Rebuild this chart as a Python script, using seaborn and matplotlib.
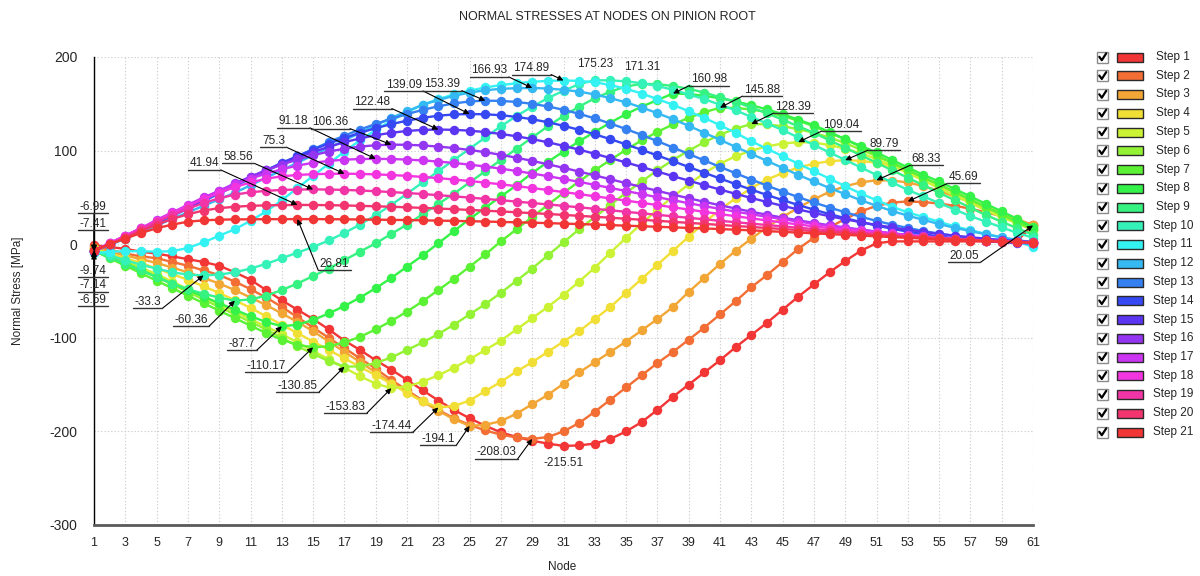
import matplotlib
matplotlib.use("Agg")
import matplotlib.pyplot as plt
import matplotlib.transforms as mtransforms
from matplotlib.lines import Line2D
from matplotlib.patches import Rectangle
import numpy as np
import pandas as pd
import seaborn as sns

# ---------------------------------------------------------------- data
nodes = list(range(1, 62))
step_names = [f"Step {i}" for i in range(1, 22)]

step_01 = [-1, -3, -5, -8, -10, -13, -16, -19, -23, -30,
           -38, -49, -60, -70, -80, -91, -103, -113, -124, -134,
           -145, -156, -167, -177, -186, -194, -201, -206, -210, -213,
           -215.51, -215, -213, -208, -200, -190, -177, -163, -150, -137,
           -124, -110, -97, -84, -70, -56, -43, -30, -18, -7,
           1, 3, 3, 3, 3, 3, 3, 3, 3, 4, 20.05]
step_02 = [-3, -6, -10, -13, -15, -19, -23, -28, -33, -40,
           -48, -57, -67, -78, -89, -100, -111, -122, -133, -145,
           -156, -167, -177, -186, -193, -199, -203.5, -206.5, -208.03, -206,
           -200, -191, -179, -166, -153, -140, -127, -115, -102, -89,
           -75, -61, -46, -33, -19, -5, 7, 18, 27, 35,
           41, 44.5, 45.69, 45, 43.5, 41, 38, 34, 30, 25, 21]
step_03 = [-4, -8, -12, -16, -20, -25, -30, -36, -42, -49,
           -57, -65, -74, -83, -93, -104, -115, -126, -137, -148,
           -158, -168, -178, -187, -194.1, -193, -189, -181, -171, -161,
           -149, -137, -126, -115, -104, -92, -80, -67, -51, -36,
           -21, -7, 6, 18, 29, 39, 48, 56, 62, 66,
           68.33, 68, 66, 62, 57, 51, 45, 39, 33, 27, 20]
step_04 = [-5, -10, -15, -20, -26, -32, -38, -45, -52, -60,
           -68, -77, -86, -95, -104, -113, -122, -131, -140, -149,
           -159, -168, -174.44, -173, -167, -157, -147, -136, -126, -115,
           -104, -93, -80, -67, -52, -37, -22, -7, 8, 23,
           37, 49, 60, 69, 76, 82, 86, 88.7, 89.79, 89,
           87, 83.5, 78.5, 71, 63, 55, 47, 40, 32, 25, 18]
step_05 = [-5, -11, -18, -25, -32, -40, -48, -56, -64, -72,
           -80, -88, -96, -105, -114, -123, -132, -141, -149, -153.83,
           -152, -147, -140, -132, -123, -113, -103, -91, -79, -67,
           -54, -40, -25, -9, 7, 22, 37, 51, 64, 76,
           86, 94, 100, 104.5, 107.5, 109.04, 108.5, 106, 102, 97,
           91, 84, 76, 68, 60, 52, 44, 36, 29, 22, 15]
step_06 = [-6, -12, -19, -27, -35, -43, -51, -59, -67, -75,
           -83, -91, -100, -109, -117, -125, -130.85, -130.5, -127, -121,
           -113, -105, -96, -86, -75, -64, -52, -39, -26, -12,
           2, 16, 29, 42, 55, 67, 79, 90, 100, 109,
           117, 123.5, 128.39, 128, 126, 123, 119, 114, 108, 101,
           94, 87, 79, 71, 63, 55, 47, 39, 31, 23, 16]
step_07 = [-7, -15, -23, -31, -39, -47, -55, -63, -71, -79,
           -87, -95, -102, -107.5, -110.17, -109, -105, -99, -91, -82,
           -72, -61, -49, -37, -24, -11, 3, 16, 29, 42,
           55, 67, 79, 90, 101, 111, 120, 128, 135, 141,
           145.88, 145.5, 144, 141, 137, 132, 126, 119, 112, 104,
           95, 87, 79, 71, 64, 56, 48, 40, 32, 24, 16]
step_08 = [-7, -14, -21, -28, -35, -42, -49, -56, -63, -70,
           -77, -83, -87.7, -86, -81, -74, -66, -57, -47, -36,
           -24, -12, 1, 14, 27, 39, 51, 63, 76, 88,
           99, 110, 120, 130, 139, 147, 154, 160.98, 160.5, 158.5,
           156, 152.5, 148.5, 144, 139, 133, 127, 120, 112, 105,
           98, 90, 82, 74, 67, 59, 51, 43, 35, 27, 18]
step_09 = [-7, -14, -21, -28, -35, -42, -48, -53, -57, -60.36,
           -59, -55, -49, -42, -34, -26, -17, -8, 1, 11,
           21, 32, 43, 54, 66, 78, 90, 102, 114, 126,
           137, 147, 156, 163, 168.5, 171.31, 171, 169, 166, 162,
           157, 152, 146, 140, 133, 126, 119, 111, 103, 95,
           87, 79, 71, 63, 55, 47, 39, 31, 24, 17, 10]
step_10 = [-7, -12, -17, -22, -26, -30, -32.5, -33.3, -32.5, -30,
           -26, -21, -15, -9, -3, 4, 12, 21, 31, 42,
           54, 66, 78, 90, 102, 114, 126, 137, 147, 156,
           164, 171, 175.23, 175, 174, 172, 169, 165, 160, 155,
           149, 143, 136, 129, 122, 114, 106, 98, 90, 82,
           74, 66, 58, 51, 44, 37, 30, 24, 18, 12, 7]
step_11 = [-9.74, -8, -7.5, -7.5, -8, -7.5, -4, 2, 9, 16,
           25, 35, 47, 60, 73, 86, 99, 111, 122, 132,
           141, 149, 155, 160, 164, 167.5, 170, 172, 173.5, 174.5,
           174.89, 174.5, 173, 170, 166, 161, 155, 149, 142, 135,
           127, 119, 110, 102, 94, 86, 78, 70, 62, 54,
           47, 40, 34, 29, 24, 19, 15, 11, 7, 3, -3]
step_12 = [-7.14, -1, 6, 13, 20, 27, 34, 41, 48, 55,
           63, 71, 79, 87, 95, 103, 111, 119, 127, 135,
           142, 149, 154, 158.5, 162, 164.5, 166, 166.7, 166.93, 166.3,
           165, 163, 160, 156, 151.5, 146, 140, 133.5, 126.5, 119,
           111.5, 104, 96.5, 89, 81.5, 74, 67, 60, 53.5, 47,
           41, 35.5, 30.5, 26, 21.5, 17.5, 14, 10.5, 7.5, 4.5, 2]
step_13 = [-7, 0, 7, 14.5, 22, 30, 38, 46, 54, 62,
           70, 78, 86, 94, 101.5, 109, 116, 122.5, 128.5, 134,
           139, 143.5, 147.3, 150.4, 152.5, 153.39, 153.1, 152, 150, 147.2,
           143.6, 139.3, 134.4, 128.9, 123, 116.7, 110.1, 103.3, 96.4, 89.5,
           82.6, 75.8, 69.1, 62.6, 56.3, 50.3, 44.6, 39.2, 34.1, 29.3,
           24.9, 20.9, 17.3, 14.1, 11.3, 8.9, 6.9, 5.2, 3.8, 2.7, 1.9]
step_14 = [-7, 0, 7.5, 15, 23, 31, 39, 47, 55, 63,
           71, 79, 87, 94, 101, 107.5, 113.5, 119, 124, 128.3,
           132, 135, 137.3, 138.6, 139.09, 138.8, 137.8, 136, 133.5, 130.3,
           126.5, 122.2, 117.4, 112.2, 106.6, 100.8, 94.8, 88.7, 82.5, 76.3,
           70.2, 64.2, 58.3, 52.6, 47.1, 41.9, 36.9, 32.2, 27.8, 23.7,
           19.9, 16.5, 13.4, 10.7, 8.3, 6.3, 4.6, 3.2, 2.1, 1.3, 0.8]
step_15 = [-7, 0.5, 8, 16, 24, 32, 40, 48, 56, 64,
           72, 79, 86, 92.5, 98.5, 104, 109, 113, 116.5, 119,
           121, 122.1, 122.48, 122.2, 121.3, 119.8, 117.8, 115.3, 112.3, 108.9,
           105.1, 101, 96.6, 92, 87.3, 82.5, 77.6, 72.7, 67.9, 63.1,
           58.4, 53.8, 49.4, 45.1, 41, 37.1, 33.4, 29.9, 26.6, 23.5,
           20.6, 17.9, 15.4, 13.1, 11, 9.1, 7.4, 5.9, 4.6, 3.5, 2.5]
step_16 = [-7, 1, 9, 17, 25, 33, 41, 49, 57, 65,
           72, 79, 85, 90.5, 95, 99, 102, 104.3, 105.7, 106.36,
           106.2, 105.5, 104.3, 102.7, 100.7, 98.3, 95.5, 92.4, 89, 85.4,
           81.6, 77.6, 73.5, 69.4, 65.2, 61.1, 57, 53, 49.1, 45.3,
           41.6, 38.1, 34.7, 31.5, 28.4, 25.5, 22.8, 20.2, 17.8, 15.6,
           13.5, 11.6, 9.9, 8.3, 6.9, 5.6, 4.5, 3.5, 2.6, 1.9, 1.3]
step_17 = [-7, 1, 9, 17, 26, 34, 42, 50, 57, 64,
           70, 75.5, 80, 84, 87, 89, 90.3, 91, 91.18, 91,
           90.4, 89.5, 88.3, 86.8, 85, 83, 80.7, 78.2, 75.5, 72.7,
           69.7, 66.6, 63.4, 60.1, 56.8, 53.5, 50.2, 47, 43.8, 40.7,
           37.7, 34.8, 32, 29.3, 26.7, 24.2, 21.8, 19.5, 17.3, 15.3,
           13.4, 11.6, 10, 8.5, 7.1, 5.9, 4.8, 3.8, 2.9, 2.1, 1.5]
step_18 = [-7, 1, 9, 17, 25, 33, 41, 48, 55, 61,
           66, 70, 72.5, 74, 74.8, 75.2, 75.3, 75.1, 74.6, 73.9,
           73, 71.9, 70.6, 69.1, 67.5, 65.8, 64, 62, 60, 57.9,
           55.7, 53.5, 51.2, 48.9, 46.6, 44.2, 41.8, 39.4, 37, 34.6,
           32.2, 29.9, 27.6, 25.4, 23.2, 21.1, 19.1, 17.2, 15.4, 13.7,
           12.1, 10.6, 9.2, 7.9, 6.7, 5.6, 4.6, 3.7, 2.9, 2.2, 1.6]
step_19 = [-7.41, 0, 8, 16, 24, 31, 38, 44, 49, 53,
           55.5, 57, 58, 58.4, 58.56, 58.4, 58, 57.4, 56.6, 55.7,
           54.7, 53.6, 52.4, 51.1, 49.8, 48.4, 47, 45.5, 44, 42.5,
           41, 39.4, 37.8, 36.2, 34.6, 33, 31.4, 29.8, 28.2, 26.6,
           25, 23.5, 22, 20.5, 19, 17.6, 16.2, 14.8, 13.5, 12.2,
           11, 9.8, 8.7, 7.6, 6.6, 5.6, 4.7, 3.9, 3.1, 2.4, 1.8]
step_20 = [-6.99, 0, 7, 14, 21, 27, 32, 36, 38.5, 40,
           41, 41.5, 41.8, 41.94, 41.9, 41.7, 41.4, 41, 40.5, 40,
           39.4, 38.8, 38.1, 37.4, 36.6, 35.8, 35, 34.1, 33.2, 32.3,
           31.3, 30.3, 29.3, 28.3, 27.2, 26.1, 25, 23.9, 22.8, 21.7,
           20.6, 19.5, 18.4, 17.3, 16.2, 15.1, 14, 13, 12, 11,
           10, 9, 8.1, 7.2, 6.3, 5.5, 4.7, 4, 3.3, 2.7, 2.1]
step_21 = [-6.59, 0, 6, 12, 17, 21, 24, 25.5, 26.2, 26.5,
           26.6, 26.7, 26.75, 26.81, 26.8, 26.7, 26.6, 26.4, 26.2, 26,
           25.8, 25.5, 25.2, 24.9, 24.6, 24.2, 23.8, 23.4, 23, 22.5,
           22, 21.5, 21, 20.4, 19.8, 19.2, 18.6, 18, 17.4, 16.8,
           16.2, 15.5, 14.8, 14, 13.2, 12.4, 11.6, 10.8, 10, 9.2,
           8.4, 7.6, 6.8, 6, 5.2, 4.5, 3.8, 3.2, 2.6, 2.1, 1.6]

steps = [step_01, step_02, step_03, step_04, step_05, step_06, step_07,
         step_08, step_09, step_10, step_11, step_12, step_13, step_14,
         step_15, step_16, step_17, step_18, step_19, step_20, step_21]

step_colors = ["#f23535", "#f26e35", "#f2a635", "#f2df35", "#ccf235",
               "#94f235", "#5bf235", "#35f248", "#35f281", "#35f2b9",
               "#35f2f2", "#35b9f2", "#3581f2", "#3548f2", "#5b35f2",
               "#9435f2", "#cc35f2", "#f235df", "#f235a6", "#f2356e",
               "#f23535"]

# value callouts: (step, node, label dx, underline dy) in pixels, dy measured downward
callouts = [
    (21, 14, 37, 51), (20, 14, -93, -35), (19, 15, -75, -26), (18, 17, -71, -26.5),
    (17, 19, -82, -31), (16, 20, -61, -16), (15, 23, -66, -21), (14, 25, -66, -23),
    (13, 26, -43, -10), (12, 29, -43, -11), (11, 31, -32, -6),
    (8, 38, 36, -8), (7, 41, 42, -11.5), (6, 43, 42, -11), (5, 46, 43, -11),
    (4, 49, 39, -10), (3, 51, 50, -15), (2, 53, 56, -18), (1, 61, -69, 37),
    (10, 8, -56, 33), (9, 10, -44, 25.5), (8, 13, -40, 24), (7, 15, -47, 25),
    (6, 17, -47, 25.5), (5, 20, -46, 25), (4, 23, -47, 24.7), (3, 25, -31.5, 19.3),
    (2, 29, -36, 20),
    (20, 1, -1, -37.5), (19, 1, -1, -21), (11, 1, -1, 24), (12, 1, -1, 41), (21, 1, -1, 56),
]
# plain labels: (step, node, vertical gap in pixels; positive = above the point)
plain_labels = [(10, 33, 10), (9, 36, 10.5), (1, 31, -11)]

# ---------------------------------------------------------------- style
sns.set_style("white")
plt.rcParams["font.family"] = ["Liberation Sans", "DejaVu Sans"]
plt.rcParams["axes.unicode_minus"] = False

W, H = 1200, 576
fig = plt.figure(figsize=(W / 100, H / 100), dpi=100)
fig.patch.set_facecolor("white")
ax = fig.add_axes([94 / W, (H - 525) / H, 939 / W, 468 / H])

frames = [pd.DataFrame({"Node": nodes, "Stress": vals, "Step": name})
          for name, vals in zip(step_names, steps)]
df = pd.concat(frames, ignore_index=True)

sns.lineplot(data=df, x="Node", y="Stress", hue="Step", hue_order=step_names,
             palette=step_colors, marker="o", markersize=6.8, markeredgewidth=0,
             linewidth=1.7, estimator=None, sort=False, legend=False,
             clip_on=False, ax=ax)

ax.set_xlim(1, 61)
ax.set_ylim(-300, 200)
ax.set_xticks(range(1, 62, 2))
ax.set_yticks(range(-300, 201, 100))
ax.set_xlabel("")
ax.set_ylabel("")
ax.set_axisbelow(True)
ax.grid(True, color="#cfcfcf", linestyle=(0, (1.2, 1.8)), linewidth=0.8)
for side in ("top", "right"):
    ax.spines[side].set_visible(False)
ax.spines["left"].set_color("black")
ax.spines["left"].set_linewidth(1.0)
ax.spines["bottom"].set_color("#5a5a5a")
ax.spines["bottom"].set_linewidth(2.0)
ax.tick_params(axis="y", direction="out", length=10, width=1, color="black",
               labelsize=10, pad=2)
ax.tick_params(axis="x", direction="out", length=5, width=1, color="#5a5a5a",
               labelsize=9, pad=4)

ident = mtransforms.IdentityTransform()
fig.text(607, H - 17, "NORMAL STRESSES AT NODES ON PINION ROOT", transform=ident,
         ha="center", va="center", fontsize=9)
fig.text(18, H - 291, "Normal Stress [MPa]", transform=ident, rotation=90,
         ha="center", va="center", fontsize=8.5)
fig.text(562, H - 567, "Node", transform=ident, ha="center", va="center", fontsize=8.5)

# ---------------------------------------------------------------- value labels
fig.canvas.draw()
renderer = fig.canvas.get_renderer()


def point_px(step, node):
    v = steps[step - 1][node - 1]
    px, py = ax.transData.transform((node, v))
    return v, px, py


for step, node, dx, dy in callouts:
    v, px, py = point_px(step, node)
    cx, uy = px + dx, py - dy
    t = fig.text(cx, uy + 0.5, f"{v:g}", transform=ident, ha="center", va="bottom",
                 fontsize=8.5, zorder=40)
    bb = t.get_window_extent(renderer)
    x0, x1 = bb.x0 - 1.5, bb.x1 + 1.5
    fig.add_artist(Line2D([x0, x1], [uy, uy], transform=ident, color="#333333",
                          lw=1.0, zorder=40))
    sx = min(max(px, x0), x1)
    ax.annotate("", xy=(px, py), xytext=(sx, uy), xycoords="figure pixels",
                textcoords="figure pixels", annotation_clip=False, zorder=41,
                arrowprops=dict(arrowstyle="-|>", color="black", lw=0.8,
                                mutation_scale=8, shrinkA=0, shrinkB=0))

for step, node, gap in plain_labels:
    v, px, py = point_px(step, node)
    fig.text(px, py + gap, f"{v:g}", transform=ident, ha="center",
             va="bottom" if gap > 0 else "top", fontsize=8.5, zorder=40)

# ---------------------------------------------------------------- legend panel
for i, (name, col) in enumerate(zip(step_names, step_colors)):
    yc = H - (57 + i * 18.75)
    fig.add_artist(Rectangle((1097, yc - 5.5), 11, 11, transform=ident,
                             facecolor="white", edgecolor="#8c8c8c", lw=1.0))
    fig.add_artist(Line2D([1099.3, 1101.8, 1106.2], [yc + 0.2, yc - 3.2, yc + 3.6],
                          transform=ident, color="black", lw=1.6))
    fig.add_artist(Rectangle((1117, yc - 4.5), 26, 9, transform=ident,
                             facecolor=col, edgecolor="#2a2a2a", lw=1.0))
    fig.text(1173, yc, name, transform=ident, ha="center", va="center", fontsize=8.5)

fig.savefig("out.png", dpi=100)
